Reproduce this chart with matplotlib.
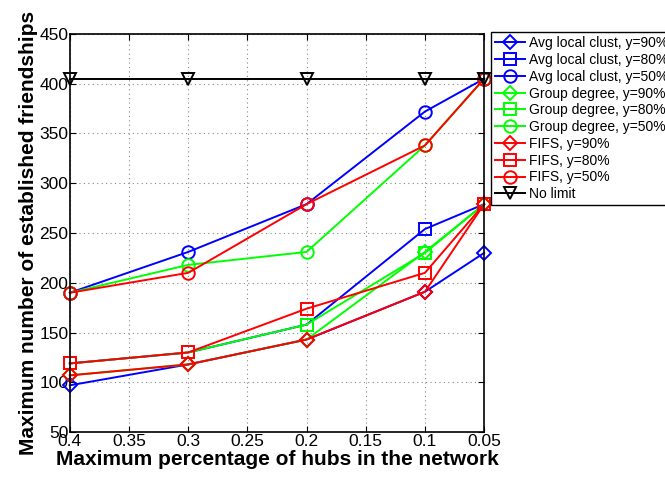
import matplotlib
matplotlib.use("Agg")
import matplotlib.pyplot as plt

# max percentage of hubs (x axis runs from 0.4 down to 0.05)
hub_pct = [0.4, 0.3, 0.2, 0.1, 0.05]

clust_90 = [97, 118, 143, 191, 230]
clust_80 = [119, 130, 158, 254, 279]
clust_50 = [190, 231, 279, 372, 405]
group_90 = [107, 118, 143, 231, 279]
group_80 = [119, 130, 158, 230, 279]
group_50 = [190, 218, 231, 338, 405]
fifs_90 = [107, 118, 143, 191, 279]
fifs_80 = [119, 130, 174, 210, 279]
fifs_50 = [190, 210, 279, 338, 405]
no_limit = [405, 405, 405, 405, 405]

x_ticks = [0.4, 0.35, 0.3, 0.25, 0.2, 0.15, 0.1, 0.05]
x_labels = ["0.4", "0.35", "0.3", "0.25", "0.2", "0.15", "0.1", "0.05"]
y_ticks = [50, 100, 150, 200, 250, 300, 350, 400, 450]

plt.rcParams['font.family'] = ['Liberation Sans', 'DejaVu Sans']

series = [
    (clust_90, "b", "D", "Avg local clust, y=90%"),
    (clust_80, "b", "s", "Avg local clust, y=80%"),
    (clust_50, "b", "o", "Avg local clust, y=50%"),
    (group_90, "#00ff00", "D", "Group degree, y=90%"),
    (group_80, "#00ff00", "s", "Group degree, y=80%"),
    (group_50, "#00ff00", "o", "Group degree, y=50%"),
    (fifs_90, "r", "D", "FIFS, y=90%"),
    (fifs_80, "r", "s", "FIFS, y=80%"),
    (fifs_50, "r", "o", "FIFS, y=50%"),
    (no_limit, "k", "v", "No limit"),
]

fig = plt.figure(figsize=(6.65, 4.78), dpi=100)
ax = fig.add_axes([0.105, 0.096, 0.623, 0.833])

for vals, col, mk, lab in series:
    ms = {"D": 7.5, "s": 8, "o": 9, "v": 9}[mk]
    ax.plot(hub_pct, vals, color=col, marker=mk, markersize=ms,
            markerfacecolor="none", markeredgecolor=col, markeredgewidth=1.4,
            linewidth=1.4, label=lab, clip_on=False)

ax.set_xlim(0.4, 0.05)
ax.set_ylim(50, 450)
ax.set_xticks(x_ticks)
ax.set_xticklabels(x_labels)
ax.set_yticks(y_ticks)
ax.tick_params(direction="in", top=True, right=True, labelsize=12.5, length=4, pad=1)
ax.grid(True, linestyle=(0, (1, 3)), color="#888888", linewidth=0.8)
for sp in ax.spines.values():
    sp.set_linewidth(1.2)

ax.set_xlabel("Maximum percentage of hubs in the network", fontsize=15,
              fontweight="bold", labelpad=1)
ax.set_ylabel("Maximum number of established friendships", fontsize=15,
              fontweight="bold", labelpad=1)

leg = fig.legend(loc="upper left", bbox_to_anchor=(0.738, 0.933), fontsize=10,
                 frameon=True, fancybox=False, edgecolor="k", framealpha=1,
                 handlelength=2.2, handletextpad=0.25, labelspacing=0.2,
                 borderpad=0.3, borderaxespad=0)
leg.get_frame().set_linewidth(1.0)

fig.savefig("out.png", dpi=100)
